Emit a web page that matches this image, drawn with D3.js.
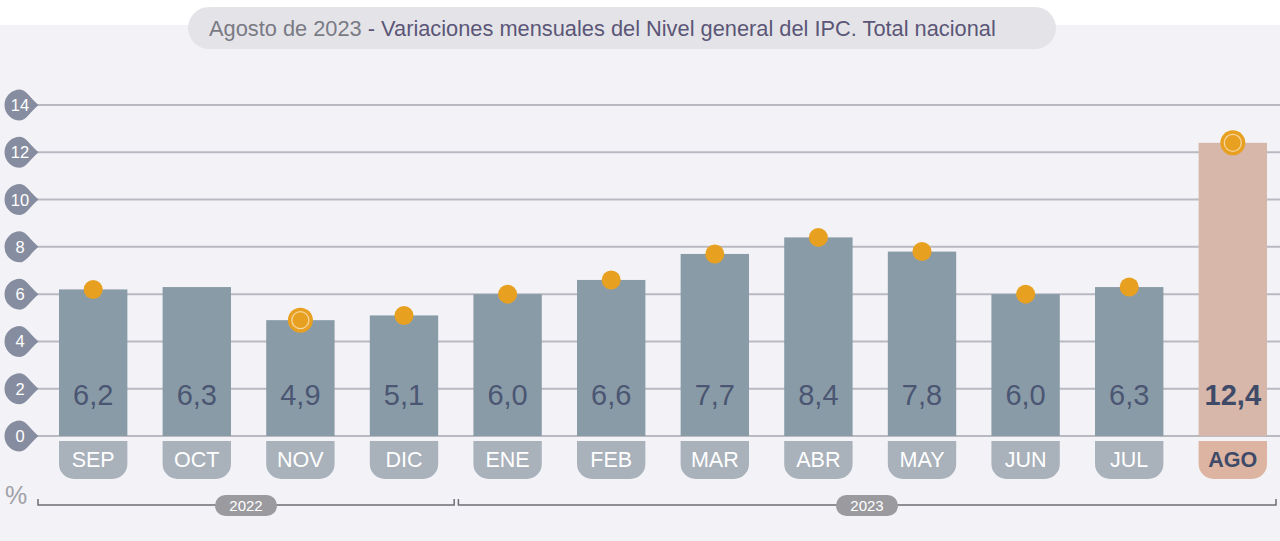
<!DOCTYPE html>
<html>
<head>
<meta charset="utf-8">
<script src="https://cdn.jsdelivr.net/npm/d3@7"></script>
<style>
  body { margin: 0; background: #fff; }
  svg { display: block; font-family: "Liberation Sans", Arial, sans-serif; }
</style>
</head>
<body>
<svg id="chart" width="1280" height="541"></svg>
<script>
const months = ['SEP', 'OCT', 'NOV', 'DIC', 'ENE', 'FEB', 'MAR', 'ABR', 'MAY', 'JUN', 'JUL', 'AGO'];
const values = [6.2, 6.3, 4.9, 5.1, 6.0, 6.6, 7.7, 8.4, 7.8, 6.0, 6.3, 12.4];
// orange markers (OCT has none in the original), ring = highlighted marker
const markers = [6.2, null, 4.9, 5.1, 6.0, 6.6, 7.7, 8.4, 7.8, 6.0, 6.3, 12.4];
const ringed = ['NOV', 'AGO'];
const yTicks = [0, 2, 4, 6, 8, 10, 12, 14];
const years = [
  { label: '2022', from: 'SEP', to: 'DIC' },
  { label: '2023', from: 'ENE', to: 'AGO' }
];

const svg = d3.select('#chart');

// background panel
svg.append('rect').attr('x', 0).attr('y', 25).attr('width', 1280).attr('height', 516).attr('fill', '#f3f3f7');

var x = d3.scaleBand().domain(months).range([59, 1267]).paddingInner(0.34).paddingOuter(0);
var y = d3.scaleLinear().domain([0, 14]).range([436, 105]);

const fmt = function(v) { return d3.format('.1f')(v).replace('.', ','); };
const last = months[months.length - 1];

// title pill
svg.append('rect').attr('x', 188).attr('y', 7).attr('width', 868).attr('height', 42).attr('rx', 21)
    .attr('fill', '#e4e4e8');
const title = svg.append('text').attr('x', 209).attr('y', 36).attr('font-size', 21.8);
title.append('tspan').attr('fill', '#7a7a85').text('Agosto de 2023');
title.append('tspan').attr('fill', '#5b5677').text(' - Variaciones mensuales del Nivel general del IPC. Total nacional');

// gridlines
svg.append('g').selectAll('line').data(yTicks).enter().append('line')
    .attr('x1', 34).attr('x2', 1280)
    .attr('y1', d => y(d)).attr('y2', d => y(d))
    .attr('stroke', '#b9b9c2').attr('stroke-width', 2);

// y tick drops
const tick = svg.append('g').selectAll('g').data(yTicks).enter().append('g')
    .attr('transform', d => `translate(20,${y(d)})`);
tick.append('path')
    .attr('d', 'M0,-15.5 A15.5,15.5 0 1,0 0,15.5 C6,15.5 11,6 18.5,0 C11,-6 6,-15.5 0,-15.5 Z')
    .attr('fill', '#878da0');
tick.append('text').attr('x', 0).attr('y', 6).attr('text-anchor', 'middle')
    .attr('font-size', 16.5).attr('fill', '#fff').text(d => d);

// bars
svg.append('g').selectAll('rect').data(months).enter().append('rect')
    .attr('x', d => x(d)).attr('width', x.bandwidth())
    .attr('y', (d, i) => y(values[i])).attr('height', (d, i) => y(0) - y(values[i]))
    .attr('fill', d => d === last ? '#d6b7a9' : '#8a9ba8');

// value labels
svg.append('g').selectAll('text').data(months).enter().append('text')
    .attr('x', d => x(d) + x.bandwidth() / 2).attr('y', 405)
    .attr('text-anchor', 'middle').attr('font-size', 29)
    .attr('font-weight', d => d === last ? 'bold' : 'normal')
    .attr('fill', d => d === last ? '#3e4a68' : '#4b5672')
    .text((d, i) => fmt(values[i]));

// month tabs
const tabTop = 441, tabBottom = 479, r = 15;
const tabs = svg.append('g').selectAll('g').data(months).enter().append('g');
tabs.append('path')
    .attr('d', function(d) {
      const x0 = x(d), x1 = x(d) + x.bandwidth();
      return `M${x0},${tabTop} H${x1} V${tabBottom - r} A${r},${r} 0 0,1 ${x1 - r},${tabBottom}` +
             ` H${x0 + r} A${r},${r} 0 0,1 ${x0},${tabBottom - r} Z`;
    })
    .attr('fill', d => d === last ? '#ddb4a1' : '#a9b1bb');
tabs.append('text')
    .attr('x', d => x(d) + x.bandwidth() / 2).attr('y', 467)
    .attr('text-anchor', 'middle').attr('font-size', 21.5)
    .attr('font-weight', d => d === last ? 'bold' : 'normal')
    .attr('fill', d => d === last ? '#3e4a68' : '#fff')
    .text(d => d);

// markers
const mk = svg.append('g').selectAll('g').data(months.filter((d, i) => markers[i] !== null)).enter().append('g')
    .attr('transform', d => `translate(${x(d) + x.bandwidth() / 2},${y(markers[months.indexOf(d)])})`);
mk.filter(d => ringed.indexOf(d) < 0).append('circle').attr('r', 9.5).attr('fill', '#e8a021');
const rg = mk.filter(d => ringed.indexOf(d) >= 0);
rg.append('circle').attr('r', 12.5).attr('fill', '#e8a021');
rg.append('circle').attr('r', 8.5).attr('fill', '#e8a021').attr('stroke', '#f5d69f').attr('stroke-width', 1.3);

// percent sign
svg.append('text').attr('x', 5).attr('y', 504).attr('font-size', 25).attr('fill', '#a0a0a8').text('%');

// year brackets
const by = 505;
const yr = svg.append('g').selectAll('g').data(years).enter().append('g');
yr.append('path')
    .attr('d', function(d, i) {
      const x0 = i === 0 ? 38 : x(d.from) - 15;
      const x1 = i === 0 ? x(d.to) + x.bandwidth() + 16 : 1276;
      return `M${x0},${by - 6} V${by} H${x1} V${by - 6}`;
    })
    .attr('fill', 'none').attr('stroke', '#6e6e76').attr('stroke-width', 1.5);
yr.append('rect')
    .attr('x', (d, i) => (i === 0 ? 246 : 867) - 31).attr('y', by - 10)
    .attr('width', 62).attr('height', 21).attr('rx', 10.5)
    .attr('fill', '#9b9b9f');
yr.append('text')
    .attr('x', (d, i) => i === 0 ? 246 : 867).attr('y', by + 5.5)
    .attr('text-anchor', 'middle').attr('font-size', 15).attr('fill', '#fff')
    .text(d => d.label);
</script>
</body>
</html>
